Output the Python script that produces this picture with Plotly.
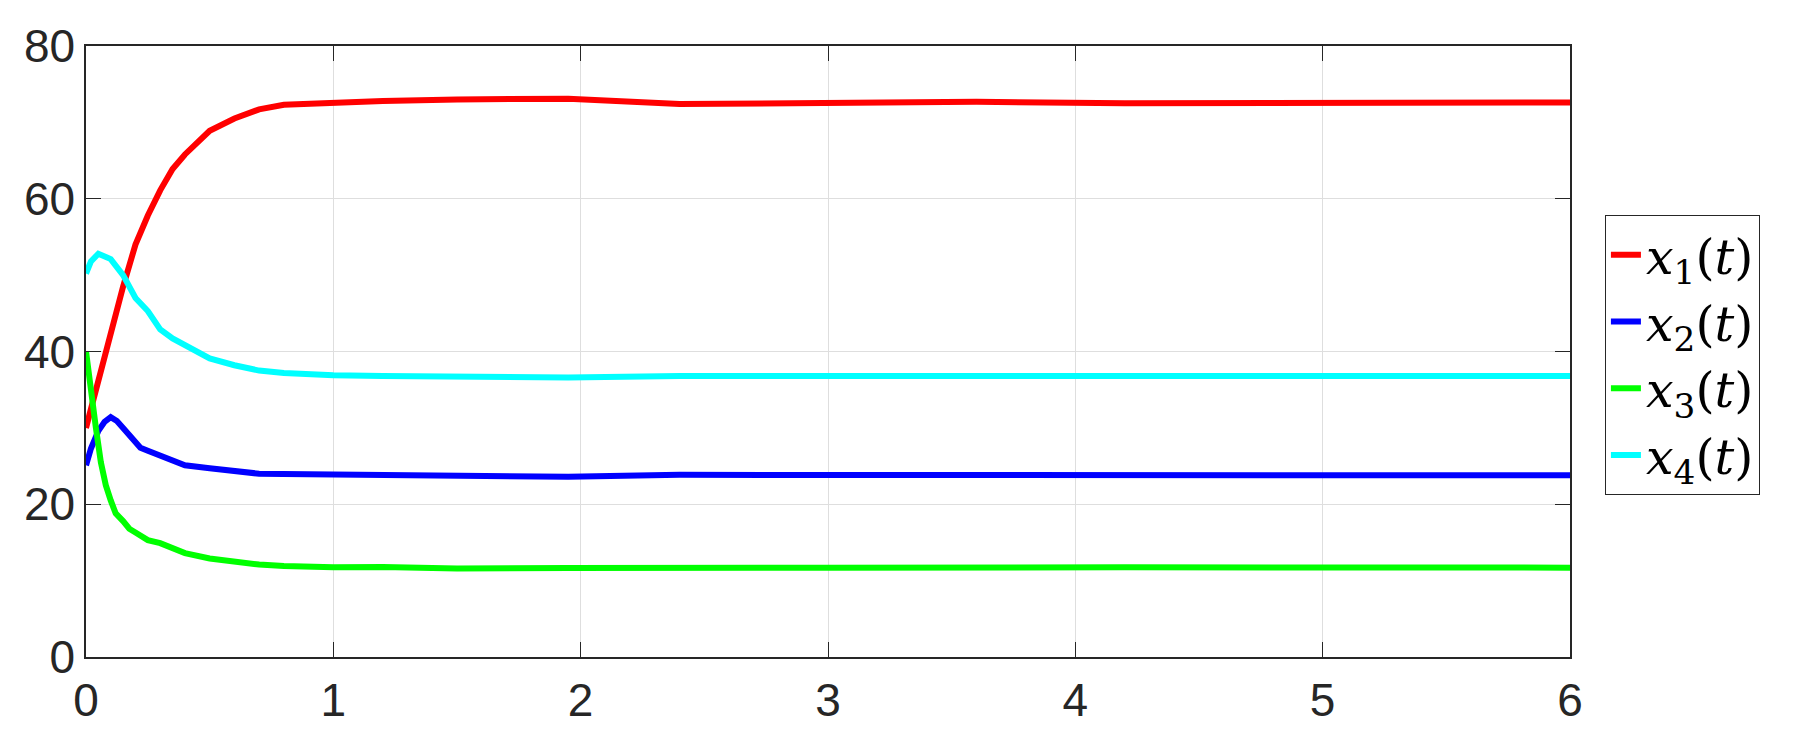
import plotly.graph_objects as go

# x1(t)
t1 = [0, 0.02, 0.05, 0.1, 0.15, 0.2, 0.25, 0.3, 0.35, 0.4, 0.5, 0.6, 0.7, 0.8,
      1.0, 1.2, 1.5, 1.95, 2.4, 3.0, 3.6, 4.2, 5.0, 6.0]
x1 = [30, 32.5, 36.5, 43, 48.5, 54, 57.8, 61.1, 63.9, 65.8, 68.9, 70.5, 71.7, 72.3,
      72.6, 72.8, 73.0, 73.1, 72.4, 72.6, 72.7, 72.5, 72.6, 72.6]

# x2(t)
t2 = [0, 0.02, 0.05, 0.075, 0.1, 0.125, 0.15, 0.2, 0.22, 0.25, 0.3, 0.35, 0.4,
      0.5, 0.6, 0.7, 0.8, 1.0, 1.2, 1.5, 1.95, 2.4, 3.0, 3.6, 4.2, 5.0, 6.0]
x2 = [25.1, 27.3, 29.6, 30.8, 31.4, 30.9, 30.0, 28.3, 27.4, 27.0, 26.3, 25.6, 25.1,
      24.7, 24.3, 24.0, 23.95, 23.9, 23.7, 23.6, 23.6, 23.85, 23.8, 23.8, 23.8, 23.8, 23.8]

# x3(t)
t3 = [0, 0.02, 0.04, 0.06, 0.08, 0.1, 0.12, 0.15, 0.175, 0.2, 0.25, 0.3, 0.35, 0.4,
      0.5, 0.6, 0.7, 0.8, 1.0, 1.2, 1.5, 1.95, 2.4, 3.0, 4.2, 6.0]
x3 = [40, 34.5, 30, 25.5, 22.5, 20.5, 18.8, 17.8, 16.8, 16.3, 15.3, 14.9, 14.2, 13.6,
      12.9, 12.4, 12.1, 11.9, 11.75, 11.8, 11.6, 11.65, 11.75, 11.7, 11.75, 11.7]

# x4(t)
t4 = [0, 0.02, 0.05, 0.1, 0.15, 0.2, 0.25, 0.3, 0.35, 0.4, 0.5, 0.6, 0.7, 0.8,
      1.0, 1.2, 1.5, 1.95, 2.4, 3.0, 3.6, 4.2, 5.0, 6.0]
x4 = [50.2, 51.8, 52.8, 52.1, 50.0, 47.0, 45.3, 42.9, 41.7, 40.8, 39.1, 38.2, 37.5, 37.2,
      36.9, 36.8, 36.7, 36.6, 36.8, 36.8, 36.75, 36.8, 36.8, 36.8]

xticks = [0, 1, 2, 3, 4, 5, 6]
yticks = [0, 20, 40, 60, 80]

series = [
    (t1, x1, "#ff0000", "<i>x</i><sub>1</sub>(<i>t</i>)"),
    (t2, x2, "#0000ff", "<i>x</i><sub>2</sub>(<i>t</i>)"),
    (t3, x3, "#00ff00", "<i>x</i><sub>3</sub>(<i>t</i>)"),
    (t4, x4, "#00ffff", "<i>x</i><sub>4</sub>(<i>t</i>)"),
]

fig = go.Figure()
for tt, yy, col, name in series:
    fig.add_trace(go.Scatter(x=tt, y=yy, mode="lines", name=name,
                             line=dict(color=col, width=6)))

axis_style = dict(
    showline=True, linecolor="#262626", linewidth=1.5, mirror="ticks",
    ticks="inside", ticklen=15, tickwidth=1.2, tickcolor="#262626",
    showgrid=True, gridcolor="#dedede", gridwidth=1, zeroline=False,
    automargin=False,
    tickfont=dict(family="Liberation Sans, Arial", size=46, color="#262626"),
)

fig.update_xaxes(range=[0, 6], tickvals=xticks, ticklabelstandoff=2, **axis_style)
fig.update_yaxes(range=[0, 80], tickvals=yticks, ticklabelstandoff=0, **axis_style)

# the page body adds an 8px offset, so the figure is 8px smaller each way
fig.update_layout(
    width=1796, height=740,
    margin=dict(l=78, r=234, t=38, b=91),
    paper_bgcolor="white", plot_bgcolor="white",
    showlegend=True,
    legend=dict(
        x=1.0234, y=0.723, xanchor="left", yanchor="top",
        bordercolor="#262626", borderwidth=1.2, bgcolor="white",
        font=dict(family="DejaVu Serif, serif", size=49, color="black"),
        tracegroupgap=0,
    ),
)

fig.write_html("out.html")
